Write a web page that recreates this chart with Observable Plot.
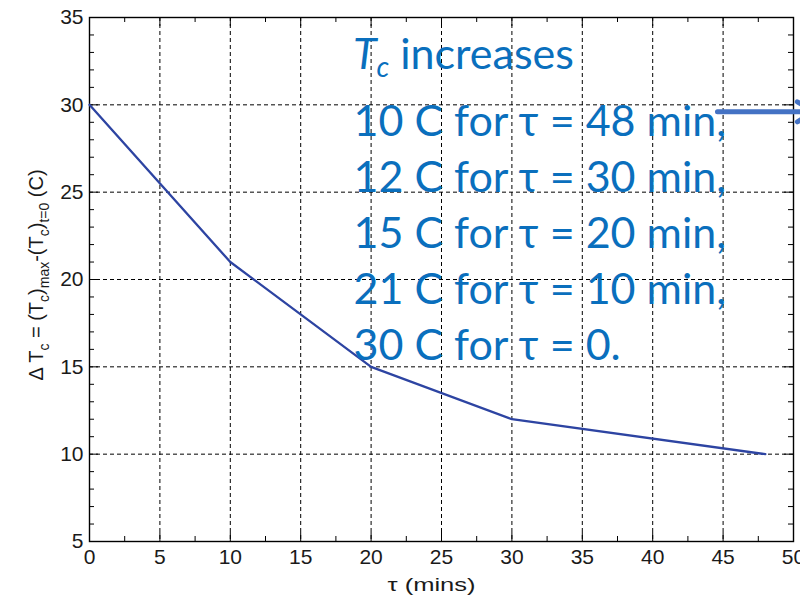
<!DOCTYPE html>
<html>
<head>
<meta charset="utf-8">
<script src="https://cdn.jsdelivr.net/npm/d3@7"></script>
<script src="https://cdn.jsdelivr.net/npm/@observablehq/plot@0.6"></script>
<style>
  body { margin: 0; background: #fff; }
  #chart svg { display: block; }
</style>
</head>
<body>
<div id="chart"></div>
<script>
// Rise of the condenser temperature ΔTc against the delay τ
const tau = [0, 10, 20, 30, 48];
const deltaTc = [30, 21, 15, 12, 10];

// Axis ticks (major with labels, minor unlabelled)
const xTicks = [0, 5, 10, 15, 20, 25, 30, 35, 40, 45, 50];
const yTicks = [5, 10, 15, 20, 25, 30, 35];
const xMinor = [2.5, 7.5, 12.5, 17.5, 22.5, 27.5, 32.5, 37.5, 42.5, 47.5];
const yMinor = [6, 7, 8, 9, 11, 12, 13, 14, 16, 17, 18, 19, 21, 22, 23, 24, 26, 27, 28, 29, 31, 32, 33, 34];
const xGrid = [5, 10, 15, 20, 25, 30, 35, 40, 45];
const yGrid = [10, 15, 20, 25, 30];

// Text of the note
const noteHeading = ["T", "c", " increases"];
const noteLines = [
  "10 C for τ = 48 min,",
  "12 C for τ = 30 min,",
  "15 C for τ = 20 min,",
  "21 C for τ = 10 min,",
  "30 C for τ = 0."
];
const xLabel = "τ (mins)";

const points = tau.map((t, i) => ({tau: t, dT: deltaTc[i]}));
const xDomain = [0, 50];
const yDomain = [5, 35];

const axisFont = "'Liberation Sans', Arial, Helvetica, sans-serif";
const noteFont = "Lato, 'Open Sans', 'Noto Sans', sans-serif";
const noteColor = "#0a6fbd";
const ink = "#1a1a1a";

// Inward tick marks on all four sides of the box
function boxTicks(xs, ys, len) {
  return [
    Plot.ruleX(xs, {x: d => d, y1: () => yDomain[0], y2: () => yDomain[0], insetTop: -len, stroke: "#000"}),
    Plot.ruleX(xs, {x: d => d, y1: () => yDomain[1], y2: () => yDomain[1], insetBottom: -len, stroke: "#000"}),
    Plot.ruleY(ys, {y: d => d, x1: () => xDomain[0], x2: () => xDomain[0], insetRight: -len, stroke: "#000"}),
    Plot.ruleY(ys, {y: d => d, x1: () => xDomain[1], x2: () => xDomain[1], insetLeft: -len, stroke: "#000"})
  ];
}

const chart = Plot.plot({
  width: 800,
  height: 597,
  marginLeft: 89,
  marginRight: 7,
  marginTop: 17,
  marginBottom: 56,
  x: {domain: xDomain},
  y: {domain: yDomain},
  style: {fontFamily: axisFont, color: ink, background: "#fff"},
  marks: [
    Plot.gridX(xGrid, {stroke: "#000", strokeOpacity: 1, strokeWidth: 1, strokeDasharray: "4,3"}),
    Plot.gridY(yGrid, {stroke: "#000", strokeOpacity: 1, strokeWidth: 1, strokeDasharray: "4,3"}),
    Plot.axisX(xTicks, {tickSize: 0, tickPadding: 8, fontSize: 21, label: null}),
    Plot.axisY(yTicks, {tickSize: 0, tickPadding: 6, fontSize: 21, label: null}),
    ...boxTicks(xTicks, yTicks, 9),
    ...boxTicks(xMinor, yMinor, 5),
    Plot.frame({stroke: "#000", strokeWidth: 1.4}),
    Plot.line(points, {x: "tau", y: "dT", stroke: "#2d44a2", strokeWidth: 2.3}),
    Plot.text([xLabel], {text: d => d, frameAnchor: "bottom", lineAnchor: "bottom", dx: -10, dy: 49,
      fontSize: 18, fill: ink, className: "x-title"}),
    // note lines and its arrow
    Plot.text([noteLines.join("\n")], {
      text: d => d, frameAnchor: "top-left", textAnchor: "start", lineAnchor: "top",
      dx: 264, dy: 79, fontSize: 43, lineHeight: 1.3, fill: noteColor, fontFamily: noteFont
    }),
    Plot.arrow([0], {x1: () => 44.6, y1: () => 29.6, x2: () => 51.5, y2: () => 29.6,
      stroke: "#4472c4", strokeWidth: 5, headLength: 6, bend: 0})
  ]
});

const svg = d3.select(chart);

// Axis title of τ is drawn wide
svg.select(".x-title text").attr("textLength", 88).attr("lengthAdjust", "spacingAndGlyphs");

// Heading of the note: italic T with subscript c
const head = svg.append("text")
  .attr("x", 353).attr("y", 69)
  .attr("text-anchor", "start")
  .attr("font-family", noteFont).attr("font-size", 43)
  .attr("fill", noteColor);
head.append("tspan").attr("font-style", "italic").text(noteHeading[0]);
head.append("tspan").attr("font-style", "italic").attr("font-size", 28).attr("dy", 8).text(noteHeading[1]);
head.append("tspan").attr("dy", -8).text(noteHeading[2]);

// Vertical axis label with subscripts
const yl = svg.append("text")
  .attr("transform", "translate(43,275) rotate(-90)")
  .attr("text-anchor", "middle")
  .attr("font-family", axisFont).attr("font-size", 20)
  .attr("fill", ink);
const parts = [
  ["Δ T", 0], ["c", 1], [" = (T", 0], ["c", 1], [")", 0], ["max", 1],
  ["-(T", 0], ["c", 1], [")", 0], ["t=0", 1], [" (C)", 0]
];
let level = 0;
for (const [s, sub] of parts) {
  const shift = (sub - level) * 6;
  const t = yl.append("tspan").text(s);
  if (shift) t.attr("dy", shift);
  if (sub) t.attr("font-size", 14);
  level = sub;
}

document.getElementById("chart").append(chart);
</script>
</body>
</html>
